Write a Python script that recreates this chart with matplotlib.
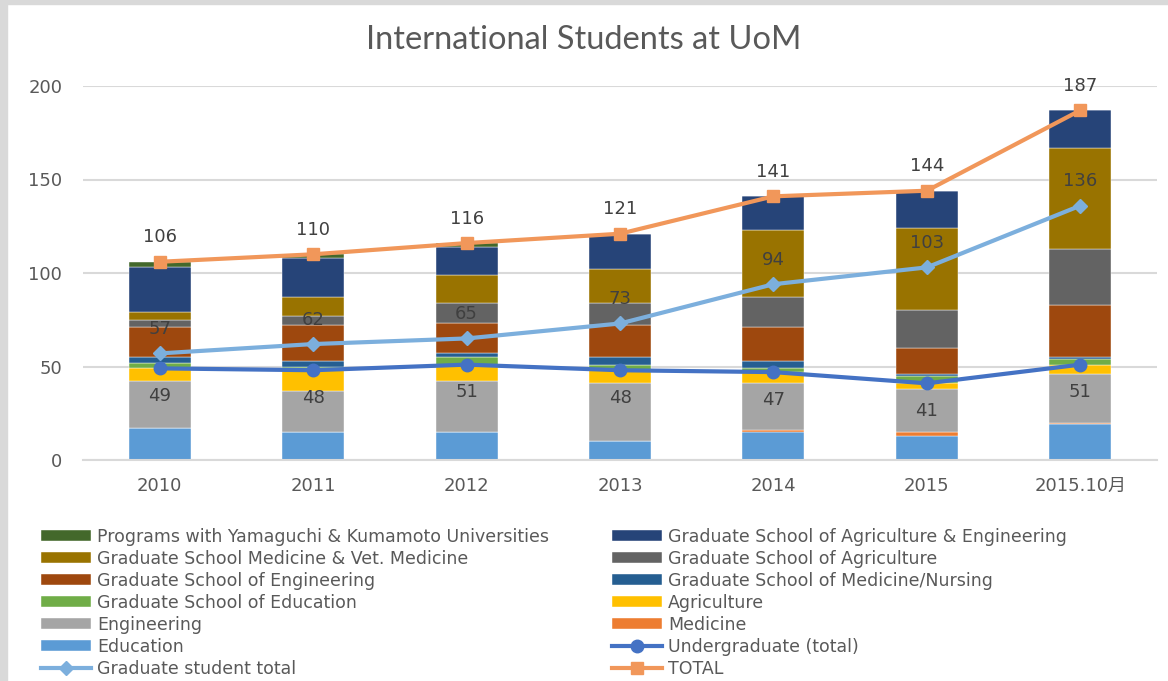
import matplotlib
matplotlib.use('Agg')
import matplotlib.pyplot as plt
from matplotlib.patches import Rectangle
import numpy as np

plt.rcParams['font.family'] = ['DejaVu Sans', 'Noto Sans CJK JP']

years = ['2010', '2011', '2012', '2013', '2014', '2015', '2015.10月']

# undergraduate faculties (bottom of the stack)
education = [17, 15, 15, 10, 15, 13, 19]
medicine = [0, 0, 0, 0, 1, 2, 1]
engineering = [25, 22, 27, 31, 25, 23, 26]
agriculture = [7, 11, 9, 7, 6, 3, 5]
# graduate schools
grad_education = [3, 2, 4, 3, 2, 4, 3]
grad_med_nursing = [3, 3, 2, 4, 4, 1, 1]
grad_engineering = [16, 19, 16, 17, 18, 14, 28]
grad_agriculture = [4, 5, 11, 12, 16, 20, 30]
grad_med_vet = [4, 10, 15, 18, 36, 44, 54]
grad_agr_eng = [24, 21, 15, 19, 18, 20, 20]
programs_yk = [3, 2, 2, 0, 0, 0, 0]

undergrad_total = [49, 48, 51, 48, 47, 41, 51]
grad_total = [57, 62, 65, 73, 94, 103, 136]
total = [106, 110, 116, 121, 141, 144, 187]

stack = [
    ('Education', education, '#5B9BD5'),
    ('Medicine', medicine, '#ED7D31'),
    ('Engineering', engineering, '#A5A5A5'),
    ('Agriculture', agriculture, '#FFC000'),
    ('Graduate School of Education', grad_education, '#70AD47'),
    ('Graduate School of Medicine/Nursing', grad_med_nursing, '#255E91'),
    ('Graduate School of Engineering', grad_engineering, '#9E480E'),
    ('Graduate School of Agriculture', grad_agriculture, '#636363'),
    ('Graduate School Medicine & Vet. Medicine', grad_med_vet, '#997300'),
    ('Graduate School of Agriculture & Engineering', grad_agr_eng, '#264478'),
    ('Programs with Yamaguchi & Kumamoto Universities', programs_yk, '#43682B'),
]

fig = plt.figure(figsize=(11.68, 6.81), dpi=100)
ax = fig.add_axes([83/1168, 1-460/681, (1157-83)/1168, (460-86)/681])

# light grey frame on the left and top edge
fig.patches.append(Rectangle((0, 0), 7/1168, 1, color='#D9D9D9', transform=fig.transFigure, zorder=0))
fig.patches.append(Rectangle((0, 1-4/681), 1, 4/681, color='#D9D9D9', transform=fig.transFigure, zorder=0))

x = np.arange(len(years))
bottom = np.zeros(len(years))
handles = {}
for name, vals, col in stack:
    b = ax.bar(x, vals, 0.405, bottom=bottom, color=col, label=name, zorder=2,
               edgecolor='#FFFFFF', linewidth=0.3)
    handles[name] = b
    bottom += np.array(vals)

l_ug, = ax.plot(x, undergrad_total, color='#4472C4', lw=3, marker='o', ms=9,
                label='Undergraduate (total)', zorder=4)
l_gr, = ax.plot(x, grad_total, color='#7CAFDD', lw=3, marker='D', ms=7,
                label='Graduate student total', zorder=4)
l_tot, = ax.plot(x, total, color='#F1975A', lw=3, marker='s', ms=9,
                 label='TOTAL', zorder=4)

lab_kw = dict(textcoords='offset points', ha='center', va='center',
              fontsize=13, color='#404040', zorder=6)
for i in range(len(years)):
    ax.annotate(str(undergrad_total[i]), (x[i], undergrad_total[i]), xytext=(0, -20), **lab_kw)
    ax.annotate(str(grad_total[i]), (x[i], grad_total[i]), xytext=(0, 17.5), **lab_kw)
    ax.annotate(str(total[i]), (x[i], total[i]), xytext=(0, 17.5), **lab_kw)

ax.set_xlim(-0.5, len(years) - 0.5)
ax.set_ylim(0, 200)
ax.set_yticks([0, 50, 100, 150, 200])
ax.set_xticks(x)
ax.set_xticklabels(years)
ax.grid(axis='y', color='#D9D9D9', lw=1.5, zorder=0)
ax.set_axisbelow(True)
for s in ['top', 'right', 'left']:
    ax.spines[s].set_visible(False)
ax.spines['bottom'].set_color('#D9D9D9')
ax.spines['bottom'].set_linewidth(1.5)
ax.tick_params(axis='both', length=0, labelsize=13, labelcolor='#595959')
ax.tick_params(axis='y', pad=15)
ax.tick_params(axis='x', pad=12)

fig.text(0.5, 1-40/681, 'International Students at UoM', ha='center', va='center',
         fontsize=23.5, color='#595959', family=['Lato', 'DejaVu Sans'])

left_col = ['Programs with Yamaguchi & Kumamoto Universities',
            'Graduate School Medicine & Vet. Medicine',
            'Graduate School of Engineering',
            'Graduate School of Education',
            'Engineering', 'Education']
right_col = ['Graduate School of Agriculture & Engineering',
             'Graduate School of Agriculture',
             'Graduate School of Medicine/Nursing',
             'Agriculture', 'Medicine']
hl = [handles[n] for n in left_col] + [l_gr] + [handles[n] for n in right_col] + [l_ug, l_tot]
ll = left_col + ['Graduate student total'] + right_col + ['Undergraduate (total)', 'TOTAL']
leg = fig.legend(hl, ll, ncol=2, loc='upper left', bbox_to_anchor=(41/1168, 1-528/681),
                 frameon=False, fontsize=12.5, labelcolor='#595959', handlelength=2.9,
                 handleheight=0.6, handletextpad=0.35, labelspacing=0.23, columnspacing=3.6,
                 borderaxespad=0, borderpad=0)

fig.savefig('out.png', dpi=100)
